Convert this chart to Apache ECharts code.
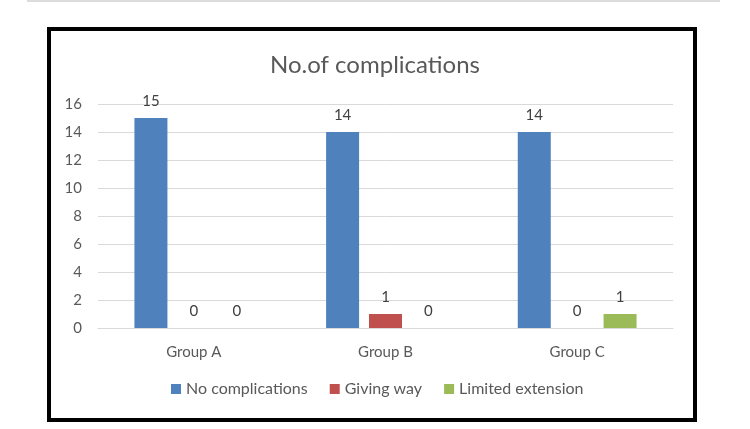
<!DOCTYPE html>
<html>
<head>
<meta charset="utf-8">
<script src="https://cdn.jsdelivr.net/npm/echarts@6/dist/echarts.min.js"></script>
<style>
    html, body {margin: 0; padding: 0; background: #fff;}
    #chart {width: 750px; height: 429px;}
</style>
</head>
<body>
<div id="chart"></div>
<script>
const categories = ['Group A', 'Group B', 'Group C'];
const noComplications = [15, 14, 14];
const givingWay = [0, 1, 0];
const limitedExtension = [0, 0, 1];
const yTicks = {min: 0, max: 16, interval: 2};

const font = 'Lato, "Open Sans", sans-serif';
const textColor = '#595959';

const barSeries = (name, data, color) => ({
    name,
    type: 'bar',
    data,
    barWidth: 33,
    barGap: '30%',
    itemStyle: {color},
    label: {
        show: true,
        position: 'top',
        distance: 9,
        color: '#404040',
        fontSize: 15,
        fontFamily: font,
    },
});

const chart = echarts.init(document.getElementById('chart'));
chart.setOption({
    animation: false,
    textStyle: {fontFamily: font},
    title: {
        text: 'No.of complications',
        left: 'center',
        top: 48,
        textStyle: {color: textColor, fontSize: 24, fontWeight: 'normal', fontFamily: font},
    },
    graphic: [
        {
            type: 'line',
            shape: {x1: 27, y1: 1, x2: 720, y2: 1},
            style: {stroke: '#dcdcdc', lineWidth: 2},
        },
        {
            type: 'rect',
            shape: {x: 49, y: 29, width: 646, height: 391},
            style: {fill: null, stroke: '#000', lineWidth: 4},
        },
    ],
    legend: {
        left: 171,
        top: 381,
        padding: 0,
        itemWidth: 10,
        itemHeight: 10,
        itemGap: 22,
        icon: 'rect',
        textStyle: {color: textColor, fontSize: 16, fontFamily: font},
    },
    grid: {left: 98, right: 77, top: 104, bottom: 101},
    xAxis: {
        type: 'category',
        data: categories,
        axisTick: {show: false},
        axisLine: {lineStyle: {color: '#d9d9d9'}},
        axisLabel: {color: textColor, fontSize: 15, margin: 17, fontFamily: font},
    },
    yAxis: {
        type: 'value',
        ...yTicks,
        axisLine: {show: false},
        axisTick: {show: false},
        splitLine: {lineStyle: {color: '#d9d9d9'}},
        axisLabel: {color: textColor, fontSize: 15, margin: 16, fontFamily: font},
    },
    series: [
        barSeries('No complications', noComplications, '#4f81bd'),
        barSeries('Giving way', givingWay, '#c0504d'),
        barSeries('Limited extension', limitedExtension, '#9bbb59'),
    ],
});
</script>
</body>
</html>
